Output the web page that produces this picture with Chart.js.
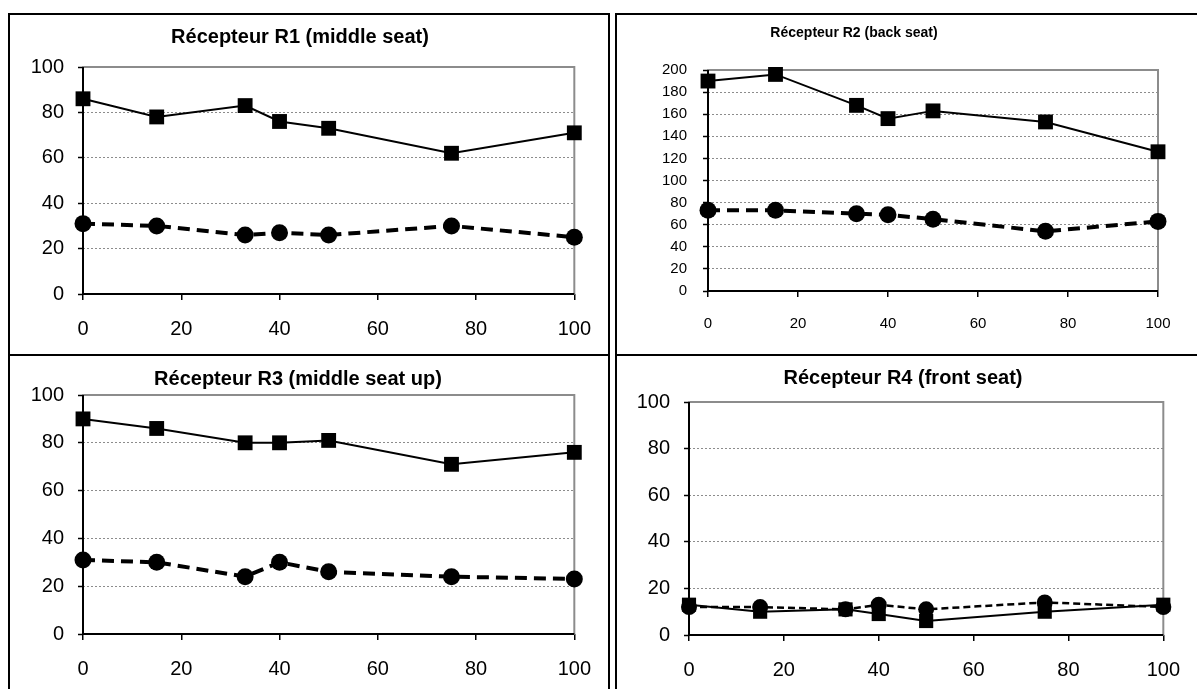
<!DOCTYPE html>
<html>
<head>
<meta charset="utf-8">
<script src="https://cdn.jsdelivr.net/npm/chart.js@4.4.1/dist/chart.umd.min.js"></script>
<style>
  body { margin: 0; background: #fff; width: 1197px; height: 689px; overflow: hidden; position: relative; }
  .box { position: absolute; border: 2px solid #000; box-sizing: border-box; }
  .rule { position: absolute; height: 2px; background: #000; }
  canvas { position: absolute; }
</style>
</head>
<body>
<div class="box" style="left:8px;top:13px;width:602px;height:700px"></div>
<div class="box" style="left:615px;top:13px;width:600px;height:700px"></div>
<div class="rule" style="left:8px;top:354px;width:602px"></div>
<div class="rule" style="left:615px;top:354px;width:600px"></div>
<canvas id="r1"></canvas>
<canvas id="r2"></canvas>
<canvas id="r3"></canvas>
<canvas id="r4"></canvas>
<script>
// x positions shared by all four receivers
const positions = [0, 15, 33, 40, 50, 75, 100];
const xTicks = [0, 20, 40, 60, 80, 100];

// values (squares = solid line, circles = dashed line)
const r1Squares = [86, 78, 83, 76, 73, 62, 71];
const r1Circles = [31, 30, 26, 27, 26, 30, 25];
const r2Squares = [190, 196, 168, 156, 163, 153, 126];
const r2Circles = [73, 73, 70, 69, 65, 54, 63];
const r3Squares = [90, 86, 80, 80, 81, 71, 76];
const r3Circles = [31, 30, 24, 30, 26, 24, 23];
const r4Squares = [13, 10, 11, 9, 6, 10, 13];
const r4Circles = [12, 12, 11, 13, 11, 14, 12];

const yTicks100 = [0, 20, 40, 60, 80, 100];
const yTicks200 = [0, 20, 40, 60, 80, 100, 120, 140, 160, 180, 200];

const FONT = "'Liberation Sans', Arial, sans-serif";

// gray plot frame with black left and bottom axes
const framePlugin = {
    id: "frame",
    beforeDatasetsDraw(chart) {
        const { ctx, chartArea: a } = chart;
        ctx.save();
        ctx.strokeStyle = "#8c8c8c";
        ctx.lineWidth = 2;
        ctx.strokeRect(a.left, a.top, a.right - a.left, a.bottom - a.top);
        ctx.strokeStyle = "#000";
        ctx.beginPath();
        ctx.moveTo(a.left, a.top);
        ctx.lineTo(a.left, a.bottom);
        ctx.lineTo(a.right, a.bottom);
        ctx.stroke();
        ctx.restore();
    }
};

// chart title centred on a given point (Excel does not centre it on the plot)
const titlePlugin = {
    id: "titleAt",
    afterDraw(chart, args, opts) {
        const ctx = chart.ctx;
        ctx.save();
        ctx.fillStyle = "#000";
        ctx.font = "bold " + opts.size + "px " + FONT;
        ctx.textAlign = "center";
        ctx.textBaseline = "middle";
        ctx.fillText(opts.text, opts.x, opts.y);
        ctx.restore();
    }
};

function toPoints(values) {
    return positions.map((x, i) => ({ x: x, y: values[i] }));
}

function makeChart(id, cfg) {
    const canvas = document.getElementById(id);
    const box = cfg.box, plot = cfg.plot;
    canvas.width = box.w;
    canvas.height = box.h;
    canvas.style.left = box.x + "px";
    canvas.style.top = box.y + "px";
    canvas.style.width = box.w + "px";
    canvas.style.height = box.h + "px";

    const yTicks = cfg.yTicks;

    new Chart(canvas.getContext("2d"), {
        type: "line",
        data: {
            datasets: [
                {
                    data: toPoints(cfg.squares),
                    borderColor: "#000",
                    borderWidth: cfg.squareLine,
                    pointStyle: "rect",
                    pointRadius: cfg.squareR,
                    pointBackgroundColor: "#000",
                    pointBorderWidth: 0,
                    tension: 0,
                    clip: false
                },
                {
                    data: toPoints(cfg.circles),
                    borderColor: "#000",
                    borderWidth: cfg.circleLine,
                    borderDash: cfg.circleDash,
                    pointStyle: "circle",
                    pointRadius: cfg.circleR,
                    pointBackgroundColor: "#000",
                    pointBorderWidth: 0,
                    tension: 0,
                    clip: false
                }
            ]
        },
        options: {
            responsive: false,
            animation: false,
            events: [],
            layout: {
                padding: { top: plot.top - box.y, left: 0, bottom: 0, right: box.x + box.w - plot.right }
            },
            plugins: {
                legend: { display: false },
                tooltip: { enabled: false },
                titleAt: {
                    text: cfg.title,
                    size: cfg.titleSize,
                    x: cfg.titleX - box.x,
                    y: cfg.titleY - box.y
                }
            },
            scales: {
                x: {
                    type: "linear",
                    min: xTicks[0],
                    max: xTicks[xTicks.length - 1],
                    afterBuildTicks: (s) => { s.ticks = xTicks.map(v => ({ value: v })); },
                    afterFit: (s) => { s.height = box.y + box.h - plot.bottom; },
                    border: { display: false },
                    grid: { drawOnChartArea: false, color: "#000", lineWidth: 1.5, tickLength: 6 },
                    ticks: { color: "#000", padding: cfg.xPad, font: { family: FONT, size: cfg.tickSize }, maxRotation: 0 }
                },
                y: {
                    min: yTicks[0],
                    max: yTicks[yTicks.length - 1],
                    afterBuildTicks: (s) => { s.ticks = yTicks.map(v => ({ value: v })); },
                    afterFit: (s) => { s.width = plot.left - box.x; },
                    border: { display: false, dash: [2, 2] },
                    grid: { color: "#8c8c8c", lineWidth: 1, tickColor: "#000", tickWidth: 1.5, tickLength: 5, tickBorderDash: [] },
                    ticks: { color: "#000", padding: cfg.yPad, font: { family: FONT, size: cfg.tickSize } }
                }
            }
        },
        plugins: [framePlugin, titlePlugin]
    });
}

makeChart("r1", {
    box: { x: 10, y: 15, w: 598, h: 339 },
    plot: { left: 83, right: 577, top: 67, bottom: 294 },
    title: "Récepteur R1 (middle seat)", titleSize: 20, titleX: 300, titleY: 37,
    tickSize: 20, xPad: 17, yPad: 14,
    yTicks: yTicks100, squares: r1Squares, circles: r1Circles,
    squareLine: 2, squareR: 10.5, circleLine: 4, circleDash: [12, 7], circleR: 8.5
});

makeChart("r2", {
    box: { x: 617, y: 15, w: 580, h: 339 },
    plot: { left: 708, right: 1158, top: 70, bottom: 291 },
    title: "Récepteur R2 (back seat)", titleSize: 14, titleX: 854, titleY: 33,
    tickSize: 15, xPad: 18, yPad: 16,
    yTicks: yTicks200, squares: r2Squares, circles: r2Circles,
    squareLine: 2, squareR: 10.5, circleLine: 4, circleDash: [12, 7], circleR: 8.5
});

makeChart("r3", {
    box: { x: 10, y: 357, w: 598, h: 332 },
    plot: { left: 83, right: 577, top: 395, bottom: 634 },
    title: "Récepteur R3 (middle seat up)", titleSize: 20, titleX: 298, titleY: 379,
    tickSize: 20, xPad: 17, yPad: 14,
    yTicks: yTicks100, squares: r3Squares, circles: r3Circles,
    squareLine: 2, squareR: 10.5, circleLine: 4, circleDash: [12, 7], circleR: 8.5
});

makeChart("r4", {
    box: { x: 617, y: 357, w: 580, h: 332 },
    plot: { left: 689, right: 1175, top: 402, bottom: 635 },
    title: "Récepteur R4 (front seat)", titleSize: 20, titleX: 903, titleY: 378,
    tickSize: 20, xPad: 17, yPad: 14,
    yTicks: yTicks100, squares: r4Squares, circles: r4Circles,
    squareLine: 2, squareR: 10, circleLine: 2.5, circleDash: [7, 4], circleR: 8
});
</script>
</body>
</html>
